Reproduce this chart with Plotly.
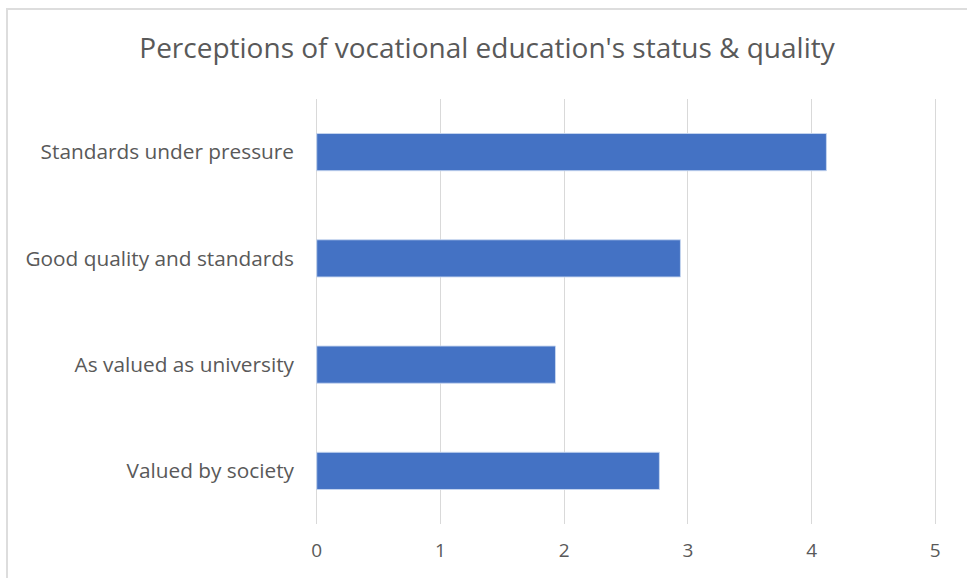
import plotly.graph_objects as go

categories = ["Valued by society", "As valued as university", "Good quality and standards", "Standards under pressure"]
values = [2.77, 1.93, 2.94, 4.12]
x_ticks = [0, 1, 2, 3, 4, 5]
title_text = "Perceptions of vocational education's status & quality"

W, H = 967, 578
L, R, T, B = 313, 28, 99, 54
pw, ph = W - L - R, H - T - B

def px_x(px):
    return (px - L) / pw

def px_y(py):
    return (H - B - py) / ph

fig = go.Figure(go.Bar(
    x=values, y=categories, orientation="h",
    marker=dict(color="#4472C4", line=dict(color="rgba(200,215,240,0.9)", width=1)),
    hoverinfo="x+y",
))

font_family = "Open Sans, Noto Sans, sans-serif"
fig.update_layout(
    width=W, height=H,
    margin=dict(l=L, r=R, t=T, b=B, pad=0),
    paper_bgcolor="white", plot_bgcolor="white",
    bargap=0.65,
    showlegend=False,
    title=dict(text=title_text, x=px_x(487), xref="paper", xanchor="center",
               y=1 - 48 / H, yanchor="middle",
               font=dict(family=font_family, size=28, color="#595959")),
    xaxis=dict(range=[-0.03, 5.03], tickvals=x_ticks, showgrid=True, gridcolor="#D9D9D9", gridwidth=1,
               zeroline=True, zerolinecolor="#D9D9D9", zerolinewidth=1,
               showline=False, ticks="", ticklabelstandoff=13,
               tickfont=dict(family=font_family, size=19, color="#595959")),
    yaxis=dict(showgrid=False, zeroline=False, showline=False, ticks="", ticklabelstandoff=18,
               tickfont=dict(family=font_family, size=20.8, color="#595959")),
    shapes=[
        dict(type="line", xref="paper", yref="paper", x0=px_x(6), x1=px_x(967), y0=px_y(9), y1=px_y(9),
             line=dict(color="#DDDDDD", width=2)),
        dict(type="line", xref="paper", yref="paper", x0=px_x(7), x1=px_x(7), y0=px_y(8), y1=px_y(578),
             line=dict(color="#DDDDDD", width=2)),
    ],
)

fig.write_html("out.html", config={"displayModeBar": False},
               post_script="document.body.style.margin='0';document.body.style.overflow='hidden';")
